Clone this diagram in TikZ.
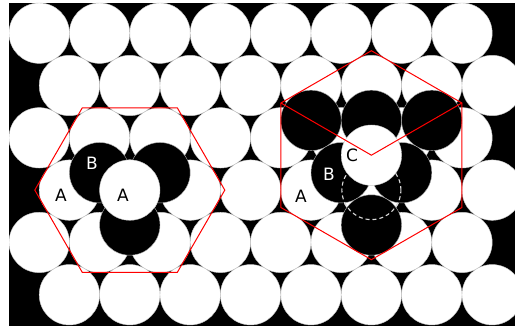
\documentclass[tikz,border=0pt]{standalone}
\usepackage{fontspec}
\setmainfont{DejaVu Sans}
\begin{document}
\begin{tikzpicture}[x=1pt,y=-1pt,
  ball/.style={fill=white,draw=gray!45,line width=0.4pt},
  bball/.style={fill=black,draw=gray!60,line width=0.4pt},
  ghost/.style={draw=white!85!black,line width=1.1pt,dash pattern=on 4pt off 3pt},
  lbl/.style={font=\fontsize{17}{20}\selectfont,inner sep=0pt},
  hexline/.style={draw=red,line width=1pt,line join=miter}]
\useasboundingbox (0,0) rectangle (515,326);
\fill[white] (0,0) rectangle (515,326);
\fill[black] (9,3) rectangle (515,326);
\begin{scope}
\clip (9,3) rectangle (515,326);
% base layer A
\foreach \j in {0,2,4} \foreach \k in {0,...,7}
  \draw[ball] ({39.2+60.4*\k},{33.2+52.31*\j}) circle[radius=30.2pt];
\foreach \j in {1,3,5} \foreach \k in {0,...,7}
  \draw[ball] ({69.4+60.4*\k},{33.2+52.31*\j}) circle[radius=30.2pt];
% left cluster: B layer
\draw[bball] (99.6,172.7) circle[radius=30.2pt];
\draw[bball] (160.0,172.7) circle[radius=30.2pt];
\draw[bball] (129.8,225.0) circle[radius=30.2pt];
% left cluster: top A
\draw[ball] (129.8,190.1) circle[radius=30.2pt];
% right cluster: B layer
\draw[bball] (311.0,120.4) circle[radius=30.2pt];
\draw[bball] (371.4,120.4) circle[radius=30.2pt];
\draw[bball] (431.8,120.4) circle[radius=30.2pt];
\draw[bball] (341.2,172.7) circle[radius=30.2pt];
\draw[bball] (401.6,172.7) circle[radius=30.2pt];
\draw[bball] (371.4,225.0) circle[radius=30.2pt];
% empty A site
\draw[ghost] (371.4,190.1) circle[radius=29.5pt];
% C ball
\draw[ball] (371.4,155.2) circle[radius=30.2pt];
\end{scope}
% labels
\node[lbl] (la1) at (61,195) {A};
\node[lbl,text=white] (lb1) at (92,163) {B};
\node[lbl] (la2) at (123,195) {A};
\node[lbl] (ra1) at (301,196) {A};
\node[lbl,text=white] (rb1) at (329,174) {B};
\node[lbl] (rc1) at (352,155) {C};
% left hexagon
\coordinate (L1) at (224.8,190.1);
\coordinate (L2) at (177.3,107.8);
\coordinate (L3) at (82.3,107.8);
\coordinate (L4) at (34.8,190.1);
\coordinate (L5) at (82.3,272.4);
\coordinate (L6) at (177.3,272.4);
\draw[hexline] (L1) -- (L2) -- (L3) -- (L4) -- (L5) -- (L6) -- cycle;
% right hexagon
\coordinate (RC) at (371.4,155.2);
\coordinate (R1) at (371.4,50.7);
\coordinate (R2) at (461.9,103.0);
\coordinate (R3) at (461.9,207.5);
\coordinate (R4) at (371.4,259.7);
\coordinate (R5) at (280.9,207.5);
\coordinate (R6) at (280.9,103.0);
\draw[hexline] (R1) -- (R2) -- (R3) -- (R4) -- (R5) -- (R6) -- cycle;
\draw[hexline] (R6) -- (RC) -- (R2);
\end{tikzpicture}
\end{document}
